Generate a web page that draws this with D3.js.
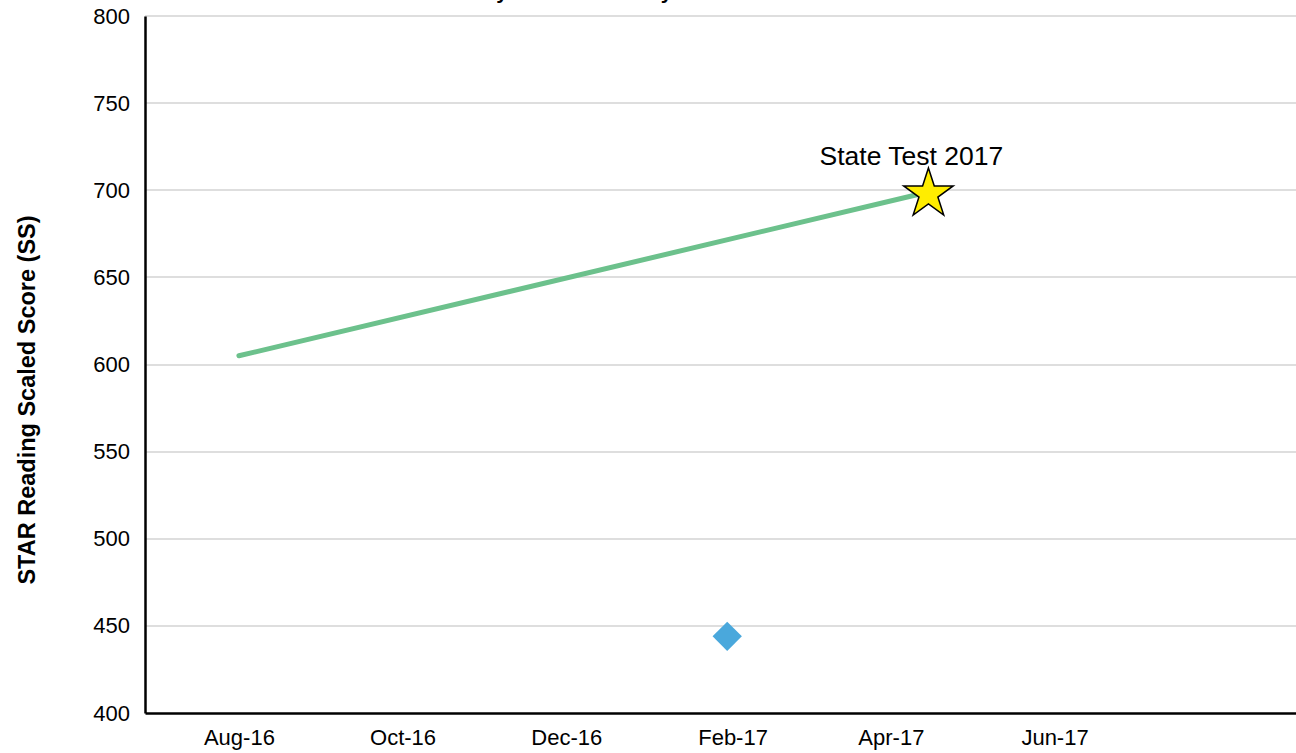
<!DOCTYPE html>
<html>
<head>
<meta charset="utf-8">
<script src="https://cdn.jsdelivr.net/npm/d3@7"></script>
<style>
  body { margin: 0; background: #fff; }
  text { font-family: "Liberation Sans", Arial, sans-serif; }
</style>
</head>
<body>
<svg id="chart" width="1296" height="753"></svg>
<script>
// data
var yTicks = [400, 450, 500, 550, 600, 650, 700, 750, 800]
var xTickDates = ["2016-08-01", "2016-10-01", "2016-12-01", "2017-02-01", "2017-04-01", "2017-06-01"]
var trendDates = ["2016-08-01", "2017-04-15"]
var trendValues = [605, 699]
var scoreDates = ["2017-01-30"]
var scoreValues = [444]
var stateTestDate = "2017-04-15"
var stateTestValue = 699
var stateTestLabel = "State Test 2017"

var parse = d3.timeParse("%Y-%m-%d")
var svg = d3.select('#chart')
var plotLeft = 145, plotTop = 16, plotBottom = 713, plotRight = 1296

var x = d3.scaleTime()
    .domain([parse("2016-06-27"), parse("2017-08-30")])
    .range([plotLeft, plotRight])
var y = d3.scaleLinear().domain([400, 800]).range([plotBottom, plotTop])

// title, sits above the visible area (only descenders show)
svg.append('text')
    .attr('x', 508).attr('y', -1)
    .attr('text-anchor', 'middle')
    .style('font-size', '21px').style('font-weight', 'bold')
    .text('Student Literacy Trend Summary')

// gridlines
svg.append('g').selectAll('line')
    .data(yTicks.filter(function(d){ return d > 400 }))
    .enter().append('line')
    .attr('x1', plotLeft).attr('x2', plotRight)
    .attr('y1', function(d){ return Math.round(y(d)) })
    .attr('y2', function(d){ return Math.round(y(d)) })
    .attr('stroke', '#dedede').attr('stroke-width', 2)

// y axis
var yAxis = svg.append('g')
    .attr('transform', 'translate(' + plotLeft + ',0)')
    .call(d3.axisLeft(y).tickValues(yTicks).tickSize(0).tickPadding(15))
yAxis.select('.domain').attr('stroke', '#000').attr('stroke-width', 2.5)
yAxis.selectAll('text').style('font-size', '22px').attr('fill', '#000')
    .style('font-family', '"Liberation Sans", Arial, sans-serif')

// x axis
var xAxis = svg.append('g')
    .attr('transform', 'translate(0,' + plotBottom + ')')
    .call(d3.axisBottom(x).tickValues(xTickDates.map(parse)).tickFormat(d3.timeFormat('%b-%y')).tickSize(0).tickPadding(16))
xAxis.select('.domain').attr('stroke', '#000').attr('stroke-width', 2.5)
xAxis.selectAll('text').style('font-size', '22px').attr('fill', '#000')
    .style('font-family', '"Liberation Sans", Arial, sans-serif')

// y label
svg.append('text')
    .attr('transform', 'translate(35,400) rotate(-90)')
    .attr('text-anchor', 'middle')
    .style('font-size', '23.5px').style('font-weight', 'bold')
    .text('STAR Reading Scaled Score (SS)')

// trend line
var line = d3.line()
    .x(function(d){ return x(d.date) })
    .y(function(d){ return y(d.value) })
var trend = trendDates.map(function(d, i){ return { date: parse(d), value: trendValues[i] } })
svg.append('path')
    .datum(trend)
    .attr('d', line)
    .attr('fill', 'none')
    .attr('stroke', '#6cc18c')
    .attr('stroke-width', 5)
    .attr('stroke-linecap', 'round')

// score points
svg.append('g').selectAll('path')
    .data(scoreDates.map(function(d, i){ return { date: parse(d), value: scoreValues[i] } }))
    .enter().append('path')
    .attr('d', d3.symbol().type(d3.symbolSquare).size(430))
    .attr('transform', function(d){ return 'translate(' + x(d.date) + ',' + y(d.value) + ') rotate(45)' })
    .attr('fill', '#4aa8dc')

// state test star
var sx = x(parse(stateTestDate)), sy = y(stateTestValue)
svg.append('path')
    .attr('d', d3.symbol().type(d3.symbolStar).size(760))
    .attr('transform', 'translate(' + sx + ',' + (sy + 2) + ')')
    .attr('fill', '#ffed00')
    .attr('stroke', '#000')
    .attr('stroke-width', 1.5)
svg.append('text')
    .attr('x', sx - 17).attr('y', sy - 27)
    .attr('text-anchor', 'middle')
    .style('font-size', '26.5px')
    .text(stateTestLabel)
</script>
</body>
</html>
